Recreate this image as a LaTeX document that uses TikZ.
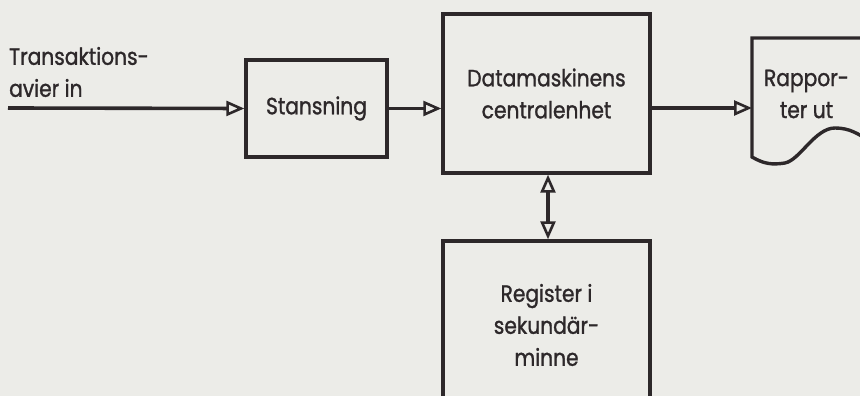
\documentclass[tikz,border=0pt]{standalone}
\usepackage{fontspec}
\setmainfont[FakeStretch=0.86, FakeBold=1.2]{Poppins}
\usetikzlibrary{arrows.meta}
\definecolor{paper}{RGB}{236,236,232}
\definecolor{ink}{RGB}{45,40,42}
\tikzset{
  box/.style={draw=ink, line width=3.4pt, fill=paper, text=ink, align=center,
    inner sep=0pt, font=\fontsize{23.5}{32}\selectfont},
  label/.style={text=ink, inner sep=0pt, font=\fontsize{23.5}{32}\selectfont},
  flow/.style={draw=ink, line width=3.6pt, -{Triangle[open, fill=paper, length=18pt, width=15pt, line width=2.6pt]}},
  twoway/.style={draw=ink, line width=3.6pt,
    {Triangle[open, fill=paper, length=18pt, width=15pt, line width=2.6pt]}-{Triangle[open, fill=paper, length=18pt, width=15pt, line width=2.6pt]}}
}
\begin{document}
\begin{tikzpicture}[x=1pt,y=1pt]
  % sheet
  \fill[paper] (0,0) rectangle (860,396);
  \useasboundingbox (0,0) rectangle (860,396);
  \begin{scope}
    \clip (0,0) rectangle (860,396);

    % processing chain
    \node[box, minimum width=141pt, minimum height=97pt] (stans) at (316.5,287.5) {Stansning};
    \node[box, minimum width=207pt, minimum height=159pt] (cpu) at (546.5,302.5)
      {Datamaskinens\\centralenhet};
    \node[box, minimum width=207pt, minimum height=180pt] (reg) at (546.5,65)
      {};
    \node[label, align=center] (regtext) at (546.5,71) {Register i\\sekundär-\\minne};

    % report document with wavy lower edge
    \coordinate (doc) at (752,288);
    \draw[ink, line width=3.4pt, fill=paper]
      (875,358) -- (752,358) -- (752,239)
      .. controls (764,232) and (772,231) .. (785,233)
      .. controls (800,236) and (815,268) .. (835,268)
      .. controls (850,268) and (858,262) .. (870,255) -- (875,255);
    \node[label, align=center] (rapp) at (806.5,302) {Rappor-\\ter ut};

    % incoming transactions
    \node[label, align=left, anchor=west] (trans) at (9,324) {Transaktions-\\avier in};
    \coordinate (in) at (8,288);

    % connectors
    \draw[flow] (in) -- (stans.west);
    \draw[flow] (stans.east) -- (cpu.west |- stans.east);
    \draw[flow] (cpu.east |- doc) -- (doc);
    \draw[twoway] ([xshift=1.5pt]cpu.south) -- ([xshift=1.5pt]reg.north);
  \end{scope}
\end{tikzpicture}
\end{document}
